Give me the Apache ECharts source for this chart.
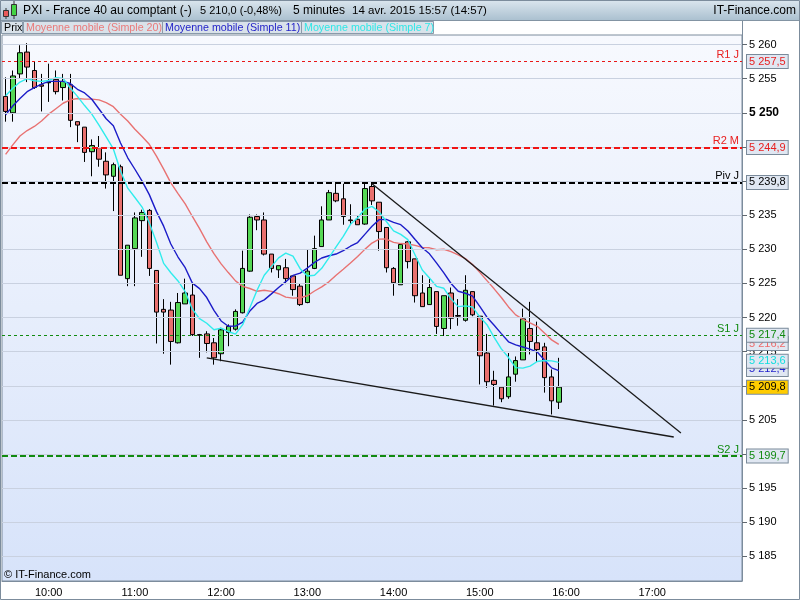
<!DOCTYPE html>
<html>
<head>
<meta charset="utf-8">
<script src="https://cdn.jsdelivr.net/npm/echarts@6/dist/echarts.min.js"></script>
<style>
  html, body { margin: 0; padding: 0; background: #fff; }
  #chart-container { width: 800px; height: 600px; }
</style>
</head>
<body>
<div id="chart-container"></div>
<script>
var dom = document.getElementById("chart-container");
var myChart = echarts.init(dom, null, { renderer: "canvas" });

// 5 minute bars, 09:30 -> 15:55
var open = [5252.4,5250.0,5255.7,5258.9,5256.2,5254.1,5254.4,5254.9,5253.7,5254.1,
  5248.7,5247.9,5244.3,5244.9,5242.9,5240.7,5242.1,5225.7,5230.1,5234.2,
  5235.7,5226.9,5221.2,5221.1,5216.3,5222.0,5223.3,5217.5,5217.6,5216.3,
  5214.7,5217.8,5218.3,5220.7,5226.8,5234.8,5234.3,5229.3,5227.0,5227.3,
  5226.1,5224.6,5222.2,5227.2,5230.4,5234.3,5238.2,5237.4,5234.3,5234.4,
  5233.7,5239.2,5236.9,5233.2,5227.2,5224.8,5231.1,5228.6,5223.6,5221.9,
  5223.8,5218.4,5223.6,5220.3,5219.6,5223.8,5220.2,5214.8,5210.8,5209.8,
  5208.4,5211.7,5213.8,5218.4,5216.3,5215.7,5211.3,5207.6];
var close = [5250.2,5255.4,5258.8,5256.7,5253.7,5253.9,5254.5,5253.1,5254.6,5248.9,
  5248.2,5244.2,5245.2,5243.2,5240.9,5242.4,5226.2,5230.6,5234.6,5235.4,
  5227.2,5220.8,5220.8,5216.5,5222.2,5223.6,5217.5,5217.4,5216.2,5214.1,
  5218.2,5218.7,5220.9,5227.2,5234.7,5234.3,5229.3,5227.2,5227.6,5225.7,
  5224.1,5221.9,5226.8,5230.1,5234.3,5238.3,5237.1,5234.8,5234.2,5233.6,
  5238.9,5237.1,5232.6,5227.3,5225.1,5230.7,5228.2,5223.2,5221.6,5224.4,
  5218.7,5223.2,5219.9,5220.2,5224.0,5220.4,5214.4,5210.6,5210.2,5208.1,
  5211.3,5213.7,5219.8,5216.5,5215.3,5211.2,5207.8,5209.8];
var low = [5248.7,5248.7,5255.1,5254.5,5253.5,5250.2,5251.6,5252.7,5251.8,5247.9,
  5245.7,5242.8,5240.7,5242.1,5238.9,5235.6,5226.2,5224.6,5224.6,5228.9,
  5226.1,5216.2,5214.7,5213.1,5216.2,5222.0,5217.3,5214.1,5214.9,5213.1,
  5213.6,5215.8,5218.1,5220.6,5226.7,5232.8,5229.1,5226.6,5225.8,5224.9,
  5223.2,5221.7,5222.1,5227.1,5230.4,5234.3,5236.9,5233.6,5233.7,5233.6,
  5233.6,5236.5,5229.8,5226.6,5223.2,5224.8,5227.2,5222.2,5221.6,5221.9,
  5217.6,5217.3,5218.3,5218.8,5219.4,5220.2,5210.2,5209.7,5207.1,5207.6,
  5208.1,5210.6,5213.8,5214.6,5213.5,5209.0,5205.8,5206.6];
var high = [5255.2,5256.2,5259.9,5260.2,5257.5,5255.7,5257.2,5256.2,5255.7,5255.7,
  5248.7,5247.9,5246.1,5246.6,5244.2,5242.7,5242.4,5230.6,5235.4,5235.8,
  5235.9,5226.9,5222.7,5222.3,5223.6,5225.7,5225.0,5217.6,5218.0,5217.0,
  5218.5,5219.0,5221.2,5229.8,5235.1,5235.1,5235.4,5229.3,5227.6,5228.6,
  5226.2,5225.0,5229.9,5232.0,5236.3,5238.7,5239.7,5239.6,5236.6,5234.9,
  5239.6,5239.7,5236.9,5233.2,5227.4,5230.7,5231.2,5228.6,5226.2,5225.7,
  5223.8,5223.2,5224.4,5222.7,5226.2,5223.8,5220.2,5217.6,5212.2,5209.8,
  5214.8,5214.3,5221.3,5222.3,5219.4,5216.3,5212.4,5214.1];

// moving average values before the window is full
var ma20Head = [5243.9,5245.3,5246.6,5247.4,5248.0,5248.8,5249.8,5250.6,5251.4,5251.9,
  5252.1,5252.0,5252.0,5251.9,5251.5,5250.9,5249.8,5248.8,5247.6];
var ma11Head = [5249.7,5251.0,5252.1,5253.1,5253.7,5254.2,5254.6,5254.6,5254.6,5254.3];
var ma7Head = [5252.5,5253.6,5254.5,5255.0,5254.7,5254.6];
var maLast = [5216.2, 5212.4, 5213.6]; // MA20, MA11, MA7 axis tags

var levelNames = ["R1 J", "R2 M", "Piv J", "S1 J", "S2 J"];
var levelValues = [5257.5, 5244.9, 5239.8, 5217.4, 5199.7];
var lastPrice = 5209.8;

// trend lines: [bar index, price]
var trendUpper = [[51, 5239.6], [94, 5203.1]];
var trendLower = [[28, 5214.1], [93, 5202.5]];

var yTicks = [5185,5190,5195,5200,5205,5210,5215,5220,5225,5230,5235,5240,5245,5250,5255,5260];
var boldTicks = [5250];

var times = [];
for (var m = 9 * 60 + 30; m <= 18 * 60; m += 5) {
  times.push(("0" + Math.floor(m / 60)).slice(-2) + ":" + ("0" + (m % 60)).slice(-2));
}

var FONT = '"Liberation Sans", Arial, sans-serif';

function fmt(v, d) {
  var s = v.toFixed(d).split(".");
  var i = s[0].slice(0, -3) + " " + s[0].slice(-3);
  return d ? i + "," + s[1] : i;
}

function sma(n, head) {
  return close.map(function (c, i) {
    if (i < n - 1) return head[i];
    var sum = 0;
    for (var k = i - n + 1; k <= i; k++) sum += close[k];
    return +(sum / n).toFixed(2);
  });
}

var ohlc = open.map(function (o, i) { return [o, close[i], low[i], high[i]]; });

var levelStyles = [
  { color: "#e81818", width: 1, type: [3, 3] },
  { color: "#f01414", width: 2, type: [6, 3] },
  { color: "#000000", width: 2, type: [6, 3] },
  { color: "#108a10", width: 1, type: [3, 3] },
  { color: "#108a10", width: 2, type: [6, 3] },
];
var levelText = ["#e82020", "#e82020", "#000000", "#108a10", "#108a10"];

function tag(value, color, bg) {
  return {
    yAxis: value,
    lineStyle: { color: "rgba(0,0,0,0)", width: 0 },
    label: {
      show: true,
      position: "end",
      distance: 5,
      formatter: fmt(value, 1),
      color: color,
      fontFamily: FONT,
      fontSize: 11,
      lineHeight: 12,
      backgroundColor: bg || "#e0e7f2",
      borderColor: "#7a8a9a",
      borderWidth: 1,
      padding: [1, 2, 0, 2],
    },
  };
}

var tags = [
  tag(maLast[0], "#ee6a6a"),
  tag(maLast[1], "#2222cc"),
  tag(maLast[2], "#10dede"),
  tag(lastPrice, "#000000", "#ffcc00"),
];
levelValues.forEach(function (v, i) { tags.push(tag(v, levelText[i])); });

var isHour = function (i, v) { return v.slice(3) === "00" && v !== "18:00"; };

var titleGrad = new echarts.graphic.LinearGradient(0, 0, 0, 1, [
  { offset: 0, color: "#dbe6ee" },
  { offset: 1, color: "#a9bfcf" },
]);

var option = {
  animation: false,
  backgroundColor: "#ffffff",
  grid: {
    left: 2,
    right: 58,
    top: 35,
    bottom: 19,
    show: true,
    borderColor: "#7c8c9c",
    borderWidth: 1,
    backgroundColor: new echarts.graphic.LinearGradient(0, 0, 0, 1, [
      { offset: 0, color: "#f7f9fe" },
      { offset: 1, color: "#d7e3fa" },
    ]),
  },
  xAxis: {
    type: "category",
    data: times,
    boundaryGap: true,
    axisLine: { lineStyle: { color: "#7c8c9c" } },
    axisTick: { interval: isHour, alignWithLabel: true, length: 5, lineStyle: { color: "#606870" } },
    axisLabel: { interval: isHour, color: "#000", fontFamily: FONT, fontSize: 11, margin: 6 },
    splitLine: { show: false },
  },
  yAxis: {
    type: "value",
    position: "right",
    min: 5181.4,
    max: 5261.4,
    axisLine: { show: true, lineStyle: { color: "#7c8c9c" } },
    axisTick: { show: true, customValues: yTicks, length: 5, lineStyle: { color: "#606870" } },
    axisLabel: {
      customValues: yTicks,
      margin: 7,
      color: "#000",
      fontFamily: FONT,
      fontSize: 11,
      formatter: function (v) {
        return boldTicks.indexOf(v) >= 0 ? "{b|" + fmt(v, 0) + "}" : fmt(v, 0);
      },
      rich: { b: { fontWeight: "bold", fontSize: 12, fontFamily: FONT, color: "#000" } },
    },
    splitLine: { show: false },
  },
  graphic: [
    { type: "rect", shape: { x: 0, y: 0, width: 800, height: 21 }, style: { fill: titleGrad } },
    { type: "line", shape: { x1: 0, y1: 20.5, x2: 800, y2: 20.5 }, style: { stroke: "#8394a3" } },
    { type: "rect", shape: { x: 0, y: 21, width: 434, height: 13 }, style: { fill: "#d9e2ea" } },
    { type: "rect", shape: { x: 1.5, y: 21.5, width: 21, height: 12 }, style: { fill: "none", stroke: "#8a9aaa" } },
    { type: "rect", shape: { x: 23.5, y: 21.5, width: 139, height: 12 }, style: { fill: "none", stroke: "#8a9aaa" } },
    { type: "rect", shape: { x: 162.5, y: 21.5, width: 139, height: 12 }, style: { fill: "none", stroke: "#8a9aaa" } },
    { type: "rect", shape: { x: 301.5, y: 21.5, width: 132, height: 12 }, style: { fill: "none", stroke: "#8a9aaa" } },
    { type: "line", shape: { x1: 742.5, y1: 21, x2: 742.5, y2: 36 }, style: { stroke: "#7c8c9c" } },
    // small candle icon
    { type: "line", shape: { x1: 6, y1: 8, x2: 6, y2: 19 }, style: { stroke: "#333" } },
    { type: "rect", shape: { x: 3.5, y: 10.5, width: 5, height: 6 }, style: { fill: "#e85a5a", stroke: "#333" } },
    { type: "line", shape: { x1: 14, y1: 1, x2: 14, y2: 19 }, style: { stroke: "#333" } },
    { type: "rect", shape: { x: 11.5, y: 4.5, width: 5, height: 11 }, style: { fill: "#44d444", stroke: "#333" } },
    { type: "text", x: 23, y: 10.5, style: { text: "PXI - France 40 au comptant (-)", fill: "#000", font: "12px " + FONT, verticalAlign: "middle" } },
    { type: "text", x: 200, y: 10.5, style: { text: "5 210,0 (-0,48%)", fill: "#000", font: "11px " + FONT, verticalAlign: "middle" } },
    { type: "text", x: 293, y: 10.5, style: { text: "5 minutes", fill: "#000", font: "12px " + FONT, verticalAlign: "middle" } },
    { type: "text", x: 352, y: 10.5, style: { text: "14 avr. 2015 15:57 (14:57)", fill: "#000", font: "11.5px " + FONT, verticalAlign: "middle" } },
    { type: "text", x: 796, y: 10.5, style: { text: "IT-Finance.com", fill: "#000", font: "12px " + FONT, align: "right", verticalAlign: "middle" } },
    { type: "text", x: 4, y: 28, style: { text: "Prix", fill: "#000", font: "10.7px " + FONT, verticalAlign: "middle" } },
    { type: "text", x: 26, y: 28, style: { text: "Moyenne mobile (Simple 20)", fill: "#ea7a7a", font: "10.7px " + FONT, verticalAlign: "middle" } },
    { type: "text", x: 165, y: 28, style: { text: "Moyenne mobile (Simple 11)", fill: "#2424c8", font: "10.7px " + FONT, verticalAlign: "middle" } },
    { type: "text", x: 304, y: 28, style: { text: "Moyenne mobile (Simple 7)", fill: "#30e6e6", font: "10.7px " + FONT, verticalAlign: "middle" } },
    { type: "text", x: 4, y: 575, z: 10, style: { text: "\u00a9 IT-Finance.com", fill: "#000", font: "11px " + FONT, verticalAlign: "middle" } },
    { type: "rect", z: 20, shape: { x: 0.5, y: 0.5, width: 799, height: 599 }, style: { fill: "none", stroke: "#7c8c9c" } },
  ],
  series: [
    {
      name: "grid",
      type: "line",
      data: [],
      z: 1,
      markLine: {
        silent: true,
        symbol: ["none", "none"],
        label: { show: false },
        lineStyle: { color: "#c9d1e0", width: 1, type: "solid" },
        data: yTicks.map(function (v) { return { yAxis: v }; }),
      },
    },
    {
      name: "Prix",
      type: "candlestick",
      data: ohlc,
      barWidth: 5,
      z: 2,
      itemStyle: {
        color: "#55d855",
        color0: "#e8706e",
        borderColor: "#000",
        borderColor0: "#000",
        borderWidth: 1,
      },
    },
    {
      name: "levels",
      type: "line",
      data: [],
      z: 3,
      markLine: {
        silent: true,
        symbol: ["none", "none"],
        data: levelValues.map(function (v, i) {
          return {
            yAxis: v,
            lineStyle: levelStyles[i],
            label: {
              show: true,
              position: "insideEndTop",
              distance: [3, 1],
              formatter: levelNames[i],
              color: levelText[i],
              fontFamily: FONT,
              fontSize: 11,
            },
          };
        }),
      },
    },
    {
      name: "Moyenne mobile (Simple 20)",
      type: "line",
      data: sma(20, ma20Head),
      symbol: "none",
      z: 4,
      lineStyle: { color: "#e87272", width: 1.4 },
    },
    {
      name: "Moyenne mobile (Simple 11)",
      type: "line",
      data: sma(11, ma11Head),
      symbol: "none",
      z: 4,
      lineStyle: { color: "#1c1cc8", width: 1.4 },
    },
    {
      name: "Moyenne mobile (Simple 7)",
      type: "line",
      data: sma(7, ma7Head),
      symbol: "none",
      z: 4,
      lineStyle: { color: "#30ecec", width: 1.4 },
    },
    {
      name: "trend1",
      type: "line",
      data: trendUpper,
      symbol: "none",
      z: 5,
      lineStyle: { color: "#1a1a1a", width: 1.3 },
    },
    {
      name: "trend2",
      type: "line",
      data: trendLower,
      symbol: "none",
      z: 5,
      lineStyle: { color: "#1a1a1a", width: 1.3 },
    },
    {
      name: "tags",
      type: "line",
      data: [],
      z: 6,
      markLine: {
        silent: true,
        symbol: ["none", "none"],
        data: tags,
      },
    },
  ],
};

myChart.setOption(option);

window.addEventListener("resize", function () {
  myChart.resize();
});
</script>
</body>
</html>
